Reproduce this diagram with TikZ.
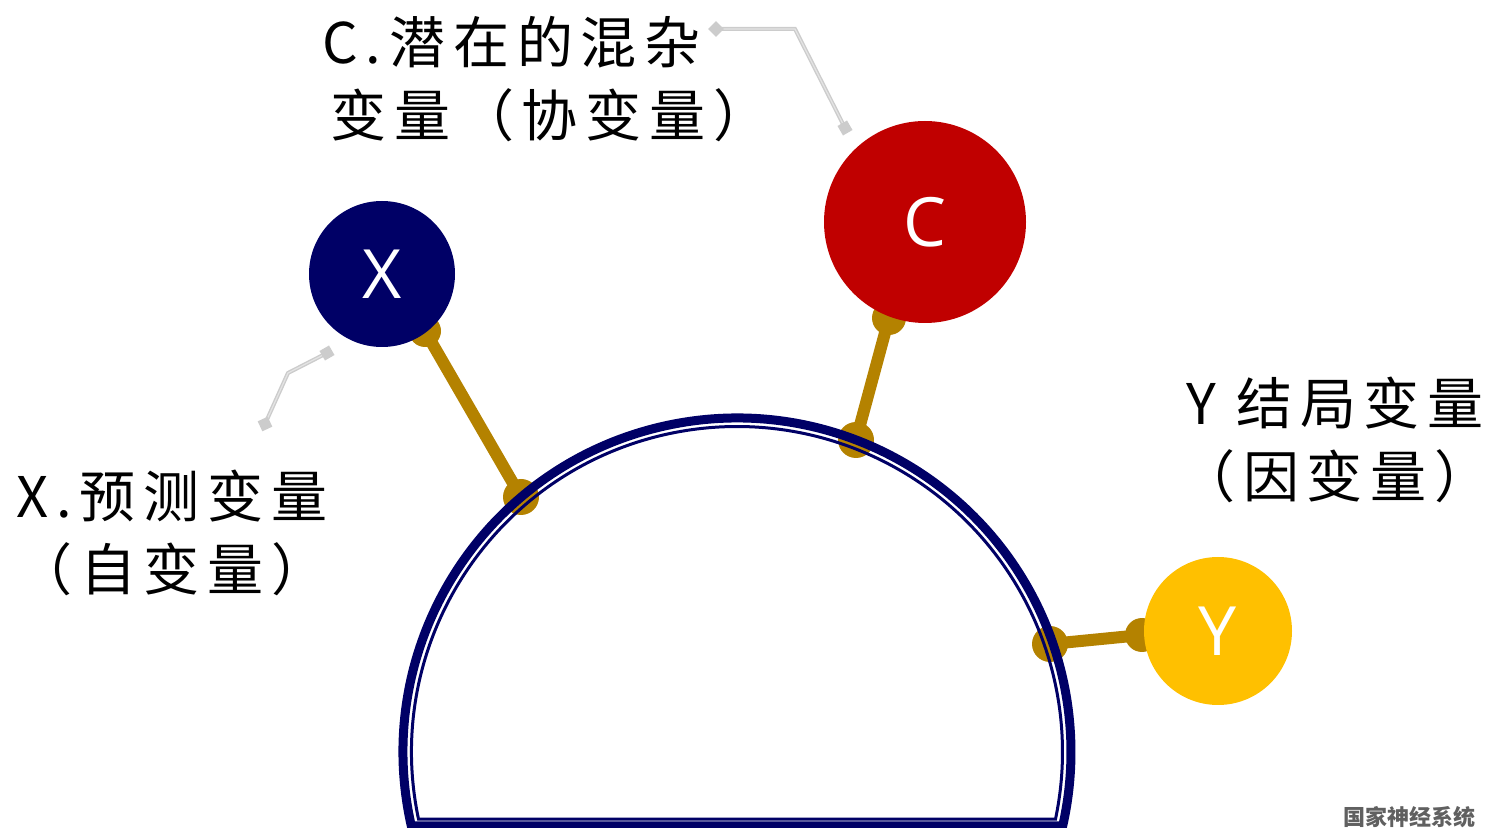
\documentclass[tikz,border=0pt]{standalone}
\usepackage{fontspec}
\setmainfont{Noto Sans CJK SC}
\newfontfamily\cjk[LetterSpace=14]{Noto Sans CJK SC}
\newfontfamily\latin{Open Sans}
\definecolor{cNavy}{HTML}{000066}
\definecolor{cRed}{HTML}{C00000}
\definecolor{cYellow}{HTML}{FFC000}
\definecolor{cGold}{HTML}{B48200}
\definecolor{cGray}{HTML}{CCCCCC}
\definecolor{cGrayLight}{HTML}{E4E4E4}
\definecolor{cWm}{HTML}{606060}
\begin{document}
\begin{tikzpicture}[x=0.5pt,y=-0.5pt,
  ball/.style={circle, inner sep=0pt, minimum size=#1, text=white, font=\latin\fontsize{34}{34}\selectfont},
  rod/.style={draw=cGold, line width=6pt},
  callout/.style={draw=cGray, line width=0.7pt, double=cGrayLight, double distance=0.6pt},
  tip/.style={fill=cGray, inner sep=0pt, minimum size=5.5pt},
  lbl/.style={font=\cjk\fontsize{28}{36.5}\selectfont, inner sep=0pt, text=black},
  rim/.style={draw=cNavy, line width=4.5pt, line join=miter},
  rimin/.style={draw=cNavy, line width=1.5pt, line join=miter}]
\useasboundingbox (0,0) rectangle (1490,828);

% connectors
\coordinate (xa) at (425,331);
\coordinate (xb) at (521,497);
\coordinate (ca) at (889,318);
\coordinate (cb) at (856,440);
\coordinate (ya) at (1142,635);
\coordinate (yb) at (1050,644);
\draw[rod] (xa) -- (xb);
\draw[rod] (ca) -- (cb);
\draw[rod] (ya) -- (yb);
\fill[cGold] (xa) circle[radius=8pt];
\fill[cGold] (xb) circle[radius=9pt];
\fill[cGold] (ca) circle[radius=8.5pt];
\fill[cGold] (cb) circle[radius=9pt];
\fill[cGold] (ya) circle[radius=8.5pt];
\fill[cGold] (yb) circle[radius=9pt];

% dome
\coordinate (dome) at (737,752);
\draw[rim] (dome) ++(192.8:167pt) arc[start angle=192.8, end angle=-12.8, radius=167pt] -- cycle;
\draw[rimin] (dome) ++(191.88:162.75pt) arc[start angle=191.88, end angle=-11.88, radius=162.75pt] -- cycle;

% balls
\node[ball=73pt, fill=cNavy] (X) at (382,274) {X};
\node[ball=101pt, fill=cRed] (C) at (925,222) {C};
\node[ball=74pt, fill=cYellow] (Y) at (1218,631) {Y};

% callouts
\coordinate (c1) at (716,29);
\coordinate (c2) at (795,29);
\coordinate (c3) at (845,128);
\draw[callout] (c1) -- (c2) -- (c3);
\node[tip, rotate=45] (c1t) at (c1) {};
\node[tip, rotate=30] (c3t) at (c3) {};
\coordinate (x1) at (327,353);
\coordinate (x2) at (288,373);
\coordinate (x3) at (265,424);
\draw[callout] (x1) -- (x2) -- (x3);
\node[tip, rotate=30] (x1t) at (x1) {};
\node[tip, rotate=25] (x3t) at (x3) {};

% labels
\node[lbl, align=left, anchor=west] (Clab) at (322,79) {C.潜在的混杂\\\hspace*{4pt}变量（协变量）};
\node[lbl, align=center] (Xlab) at (172,533) {X.预测变量\\（自变量）};
\node[lbl, align=center] (Ylab) at (1335,440) {Y 结局变量\\（因变量）};

% watermark
\node[anchor=west, inner sep=0pt, text=cWm, font=\bfseries\fontsize{11}{11}\selectfont] (wm) at (1343,817) {国家神经系统};
\end{tikzpicture}
\end{document}
